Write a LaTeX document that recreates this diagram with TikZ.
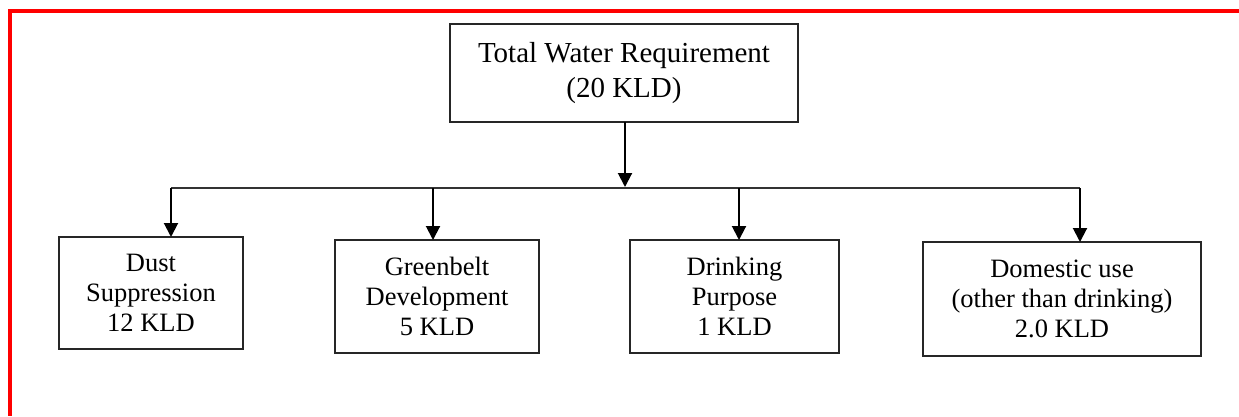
\documentclass[tikz,border=0pt]{standalone}
\usepackage{fontspec}
\setmainfont{Liberation Serif}
\usetikzlibrary{arrows.meta}
\begin{document}
\begin{tikzpicture}[x=1pt,y=-1pt,
  box/.style={draw=black!85, line width=1.1pt, inner sep=0pt, outer sep=0pt, align=center},
  topfont/.style={font=\fontsize{29}{35}\selectfont},
  subfont/.style={font=\fontsize{26.5}{30}\selectfont},
  arr/.style={line width=2pt, -{Triangle[width=14pt,length=14pt]}},
  bus/.style={line width=1.3pt, draw=black!80}]
\useasboundingbox (0,0) rectangle (1239,416);
% red frame
\draw[red, line width=4pt] (1239,11) -- (10,11) -- (10,416);
% nodes
\node[box, topfont, minimum width=348pt, minimum height=98pt] (top) at (624,73) {Total Water Requirement\\(20 KLD)};
\node[box, subfont, minimum width=184pt, minimum height=112pt] (dust) at (151,293) {Dust\\Suppression\\12 KLD};
\node[box, subfont, minimum width=204pt, minimum height=113pt] (green) at (437,296.5) {Greenbelt\\Development\\5 KLD};
\node[box, subfont, minimum width=209pt, minimum height=113pt] (drink) at (734.5,296.5) {Drinking\\Purpose\\1 KLD};
\node[box, subfont, minimum width=278pt, minimum height=114pt] (dom) at (1062,299) {Domestic use\\(other than drinking)\\2.0 KLD};
% bus coordinates
\coordinate (b1) at (171,188);
\coordinate (b2) at (433,188);
\coordinate (b3) at (739,188);
\coordinate (b4) at (1080,188);
\coordinate (bt) at (625,187);
% connectors
\draw[bus] (b1) -- (b4);
\draw[arr] (bt |- top.south) -- (bt);
\draw[arr] (b1) -- (b1 |- dust.north);
\draw[arr] (b2) -- (b2 |- green.north);
\draw[arr] (b3) -- (b3 |- drink.north);
\draw[arr] (b4) -- (b4 |- dom.north);
\end{tikzpicture}
\end{document}
